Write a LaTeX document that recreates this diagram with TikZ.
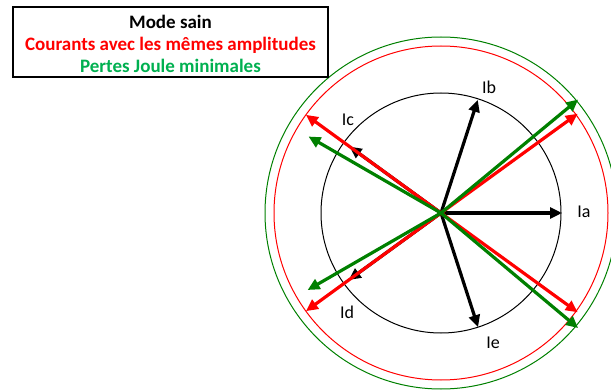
\documentclass[tikz,border=0pt]{standalone}
\usepackage{fontspec}
\setmainfont{Carlito}
\usetikzlibrary{arrows.meta,calc}
\definecolor{dgreen}{RGB}{0,128,0}
\definecolor{tgreen}{RGB}{0,176,80}
\begin{document}
\begin{tikzpicture}[x=1pt,y=1pt,
  vec/.style={line width=3.2pt,-{Triangle[length=12pt,width=11pt]}},
  lbl/.style={font=\fontsize{18}{18}\selectfont},
  ring/.style={line width=1pt}]
\useasboundingbox (0,0) rectangle (611,389);
\coordinate (O) at (441,176);
% circles
\draw[ring,black] (O) circle (120);
\draw[ring,red] (O) circle (167);
\draw[ring,dgreen] (O) circle (176);
% tips
\coordinate (ta) at ($(O)+(0:121)$);
\coordinate (tb) at ($(O)+(72:119)$);
\coordinate (tc) at ($(O)+(144:113)$);
\coordinate (td) at ($(O)+(216:114)$);
\coordinate (te) at ($(O)+(288:120)$);
\coordinate (r1) at ($(O)+(36:169)$);
\coordinate (r2) at ($(O)+(144:167)$);
\coordinate (r3) at ($(O)+(216:167)$);
\coordinate (r4) at ($(O)+(-36:169)$);
\coordinate (g1) at ($(O)+(39.6:178)$);
\coordinate (g2) at ($(O)+(150:153)$);
\coordinate (g3) at ($(O)+(210:154)$);
\coordinate (g4) at ($(O)+(-40:179)$);
% black vectors
\foreach \t in {ta,tb,tc,td,te} \draw[vec,black] (O) -- (\t);
% red vectors
\foreach \t in {r1,r2,r3,r4} \draw[vec,red] (O) -- (\t);
% green vectors
\foreach \t in {g1,g2,g3,g4} \draw[vec,dgreen] (O) -- (\t);
% labels
\node[lbl] (la) at (584,177) {Ia};
\node[lbl] (lb) at (489,302) {Ib};
\node[lbl] (lc) at (348,269) {Ic};
\node[lbl] (ld) at (347,77) {Id};
\node[lbl] (le) at (493,46) {Ie};
% title box
\node[draw,line width=1.8pt,minimum width=315pt,minimum height=70pt,
  inner sep=0pt] (title) at (170.5,347) {};
\node[align=center,inner sep=0pt,font=\bfseries\fontsize{19}{22}\selectfont]
  (titletext) at (170.5,345.5) {Mode sain\\
  \textcolor{red}{Courants avec les mêmes amplitudes}\\
  \textcolor{tgreen}{Pertes Joule minimales}};
\end{tikzpicture}
\end{document}
